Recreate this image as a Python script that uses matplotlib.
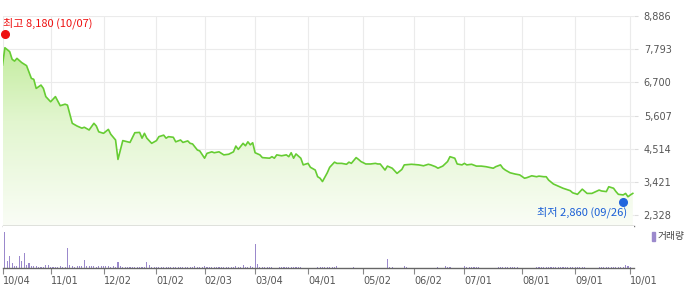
import numpy as np
import matplotlib
matplotlib.use("Agg")
import matplotlib.pyplot as plt
from matplotlib.colors import LinearSegmentedColormap
from matplotlib.patches import PathPatch, Rectangle
import matplotlib.transforms as mtransforms

# price (close), by trading-day index
price_day = [0, 1, 3, 4, 5, 6, 8, 10, 12, 13, 14, 16, 17, 18, 20, 22, 24, 26, 27, 29,
             31, 33, 34, 36, 38, 39, 40, 42, 44, 45, 47, 48, 49, 50, 52, 53, 55, 57, 58, 59,
             60, 62, 64, 65, 67, 68, 69, 71, 72, 74, 75, 77, 78, 79, 81, 82, 84, 85, 87, 88,
             90, 92, 94, 96, 97, 98, 100, 101, 102, 103, 104, 105, 107, 108, 111, 112, 113, 114, 116, 118,
             119, 120, 121, 122, 124, 125, 127, 128, 130, 131, 132, 133, 135, 136, 138, 139, 141, 143, 144, 145,
             147, 148, 149, 151, 153, 155, 156, 157, 159, 160, 162, 164, 166, 167, 170, 173, 175, 177, 178, 180,
             181, 183, 185, 186, 188, 189, 191, 192, 193, 195, 197, 199, 201, 204, 205, 207, 208, 209, 211, 213,
             215, 217, 218, 220, 222, 223, 225, 226, 227, 229, 231, 233, 236, 237, 239, 241, 243, 245, 248, 249,
             251, 252, 254, 255, 256, 258, 259, 260, 261, 262]
price = [7270, 7840, 7710, 7460, 7400, 7490, 7350, 7250, 6830, 6800, 6500, 6610, 6500, 6230, 6060, 6230, 5930, 5980, 5950, 5350,
         5260, 5190, 5220, 5130, 5350, 5260, 5070, 5020, 5150, 4990, 4800, 4160, 4470, 4780, 4740, 4720, 5040, 5050, 4860, 5020,
         4860, 4690, 4780, 4910, 4960, 4860, 4910, 4890, 4740, 4800, 4720, 4770, 4690, 4670, 4470, 4440, 4200, 4360, 4410, 4380,
         4410, 4310, 4330, 4410, 4600, 4490, 4690, 4610, 4740, 4640, 4710, 4380, 4310, 4220, 4200, 4250, 4200, 4310, 4280, 4310,
         4250, 4380, 4200, 4340, 4200, 3980, 4030, 3900, 3810, 3590, 3540, 3430, 3720, 3900, 4070, 4030, 4030, 4000, 4070, 4030,
         4220, 4160, 4090, 4010, 4010, 4030, 4010, 4010, 3810, 3940, 3870, 3700, 3830, 3980, 4000, 3980, 3950, 4000, 3980, 3920,
         3870, 3940, 4090, 4250, 4200, 4010, 3980, 4030, 3980, 4000, 3940, 3940, 3920, 3870, 3920, 3980, 3870, 3810, 3720, 3680,
         3650, 3540, 3560, 3620, 3590, 3610, 3590, 3590, 3480, 3350, 3280, 3210, 3130, 3060, 3010, 3180, 3040, 3040, 3150, 3120,
         3100, 3260, 3210, 3100, 3010, 2990, 3040, 2930, 2990, 3040]

# trading volume (relative units), one bar per trading day
volume = [23, 360, 73, 123, 53, 23, 23, 123, 67, 153,
          33, 47, 23, 23, 23, 13, 13, 13, 30, 33,
          13, 13, 13, 13, 23, 13, 13, 203, 33, 23,
          13, 23, 23, 23, 83, 23, 23, 23, 23, 13,
          23, 23, 23, 23, 23, 13, 23, 13, 60, 23,
          10, 10, 13, 10, 10, 13, 10, 10, 10, 13,
          63, 33, 13, 13, 10, 10, 10, 13, 10, 10,
          10, 13, 10, 10, 10, 10, 13, 10, 10, 10,
          23, 10, 13, 10, 23, 10, 10, 10, 10, 13,
          10, 10, 10, 13, 10, 10, 13, 23, 10, 13,
          33, 13, 10, 23, 13, 237, 43, 10, 10, 10,
          10, 10, 10, 0, 0, 10, 10, 10, 10, 10,
          10, 10, 10, 10, 10, 0, 0, 0, 0, 0,
          0, 10, 10, 10, 10, 10, 10, 10, 10, 23,
          0, 0, 0, 0, 0, 0, 10, 0, 0, 0,
          0, 0, 0, 0, 0, 0, 0, 0, 0, 0,
          93, 10, 10, 0, 0, 0, 0, 23, 10, 0,
          0, 0, 0, 0, 0, 0, 0, 0, 0, 0,
          0, 10, 0, 0, 23, 10, 10, 0, 0, 0,
          0, 0, 23, 10, 10, 10, 10, 10, 10, 0,
          0, 0, 0, 0, 0, 0, 10, 10, 10, 10,
          10, 10, 10, 10, 10, 0, 0, 0, 0, 0,
          0, 0, 10, 10, 10, 10, 10, 10, 10, 10,
          10, 10, 10, 10, 10, 10, 10, 10, 10, 10,
          10, 10, 10, 0, 0, 0, 0, 0, 10, 10,
          10, 10, 10, 10, 10, 10, 10, 10, 10, 33,
          23, 10, 0]

tick_days = [0, 20, 42, 64, 84, 105, 127, 150, 171, 192, 216, 238, 261]
tick_labels = ["10/04", "11/01", "12/02", "01/02", "02/03", "03/04", "04/01",
               "05/02", "06/02", "07/01", "08/01", "09/01", "10/01"]
y_ticks = [2328, 3421, 4514, 5607, 6700, 7793, 8886]

high_day, high_val, high_text = 1, 8180, "최고 8,180 (10/07)"
low_day, low_val, low_text = 258, 2860, "최저 2,860 (09/26)"

kr = ["Noto Sans CJK KR", "DejaVu Sans"]
xmax = 262.5
ylo, yhi = 1966, 8886

fig = plt.figure(figsize=(7.0, 2.89), dpi=100)
ax = fig.add_axes([2.5 / 700, 63 / 289, 631.5 / 700, 210 / 289])
axv = fig.add_axes([2.5 / 700, 21 / 289, 631.5 / 700, 42 / 289], sharex=ax)

# price panel
ax.set_xlim(0, xmax)
ax.set_ylim(ylo, yhi)
ax.set_yticks(y_ticks)
ax.set_yticklabels([f"{v:,}" for v in y_ticks])
ax.set_xticks(tick_days)
ax.grid(True, color="#ebebeb", lw=0.8)
ax.set_axisbelow(True)
for s in ["left", "right", "top"]:
    ax.spines[s].set_visible(False)
ax.spines["bottom"].set_color("#777777")
ax.spines["bottom"].set_linewidth(1.0)
ax.yaxis.tick_right()
ax.tick_params(axis="y", length=3, color="#dddddd", labelsize=7, labelcolor="#555555", pad=4)
ax.tick_params(axis="x", length=0, labelbottom=False)

cmap = LinearSegmentedColormap.from_list("g", ["#fafdf6", "#e2f6cf", "#b6e88a"])
grad = np.linspace(0, 1, 256).reshape(-1, 1)
im = ax.imshow(grad, aspect="auto", cmap=cmap, origin="lower",
               extent=(0, xmax, ylo, yhi), zorder=1, interpolation="bilinear")
poly = ax.fill_between(price_day, price, ylo, color="none", lw=0)
clip = PathPatch(poly.get_paths()[0], transform=ax.transData, fc="none", ec="none")
ax.add_patch(clip)
im.set_clip_path(clip)
ax.plot(price_day, price, color="#66cc33", lw=1.2, zorder=3)

up = mtransforms.offset_copy(ax.transData, fig=fig, y=3, units="dots")
down = mtransforms.offset_copy(ax.transData, fig=fig, y=-3, units="dots")
ax.plot([high_day], [high_val], "o", color="#ee1111", ms=5.5, transform=up, zorder=4, clip_on=False)
ax.plot([low_day], [low_val], "o", color="#2266dd", ms=5.5, transform=down, zorder=4)
ax.annotate(high_text, xy=(high_day, high_val), xytext=(-2, 8), textcoords="offset pixels",
            ha="left", va="bottom", color="#ee1111", fontsize=8, family=kr)
ax.annotate(low_text, xy=(low_day, low_val), xytext=(4, -8), textcoords="offset pixels",
            ha="right", va="top", color="#1a5fd6", fontsize=8, family=kr)

# volume panel
axv.bar(range(len(volume)), volume, width=0.45, color="#9b89cc", lw=0)
axv.set_ylim(0, 423)
axv.set_yticks([])
for s in ["left", "right", "top"]:
    axv.spines[s].set_visible(False)
axv.spines["bottom"].set_color("#666666")
axv.spines["bottom"].set_linewidth(1.0)
axv.set_xticks(tick_days)
axv.set_xticklabels(tick_labels, ha="left")
axv.tick_params(axis="x", length=4, color="#888888", labelsize=7, labelcolor="#555555", pad=2)

# legend for the volume panel
fig.patches.append(Rectangle((652 / 700, 48 / 289), 3 / 700, 9 / 289,
                             transform=fig.transFigure, color="#9b89cc"))
fig.text(658 / 700, 52.5 / 289, "거래량", family=kr, fontsize=7, color="#444444", va="center")

fig.savefig("out.png", dpi=100, facecolor="white")
